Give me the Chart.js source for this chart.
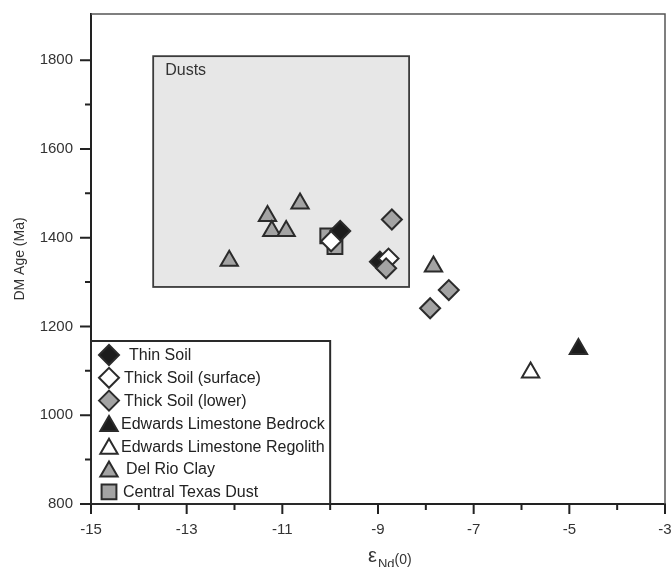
<!DOCTYPE html>
<html>
<head>
<meta charset="utf-8">
<script src="https://cdn.jsdelivr.net/npm/chart.js@4/dist/chart.umd.min.js"></script>
<style>
  html, body { margin: 0; padding: 0; background: #fff; }
</style>
</head>
<body>
<canvas id="chart" width="671" height="567"></canvas>
<script>
// values (eNd(0) vs DM age)
const seriesNames = ["Thin Soil", "Thick Soil (surface)", "Thick Soil (lower)",
  "Edwards Limestone Bedrock", "Edwards Limestone Regolith", "Del Rio Clay", "Central Texas Dust"];

const thinSoilX = [-9.79, -8.96];
const thinSoilY = [1415, 1346];
const thickSurfX = [-9.98, -8.78];
const thickSurfY = [1392, 1353];
const thickLowerX = [-8.71, -8.83, -7.52, -7.91];
const thickLowerY = [1441, 1331, 1282, 1241];
const bedrockX = [-4.81];
const bedrockY = [1149];
const regolithX = [-5.81];
const regolithY = [1096];
const delRioX = [-10.63, -11.31, -11.22, -10.92, -12.11, -7.84];
const delRioY = [1477, 1449, 1415, 1415, 1348, 1335];
const dustX = [-10.05, -9.9];
const dustY = [1404, 1380];

// "Dusts" field
const dustBoxX = [-13.7, -8.35];
const dustBoxY = [1289, 1809];

// axes
const xRange = [-15, -3];
const yRange = [800, 1904];
const xMajorTicks = [-15, -13, -11, -9, -7, -5, -3];
const xMinorTicks = [-14, -12, -10, -8, -6, -4];
const yMajorTicks = [800, 1000, 1200, 1400, 1600, 1800];
const yMinorTicks = [900, 1100, 1300, 1500, 1700];

const FONT = '"Liberation Sans", Arial, Helvetica, sans-serif';
const GRAY = "#a3a3a3";
const DARK = "#1c1c1c";
const EDGE = "#2b2b2b";

function pts(xs, ys) {
  return xs.map((x, i) => ({ x, y: ys[i] }));
}

const styles = [
  { style: "rectRot", fill: DARK, r: 10 },
  { style: "rectRot", fill: "#ffffff", r: 10 },
  { style: "rectRot", fill: GRAY, r: 10 },
  { style: "triangle", fill: DARK, r: 10 },
  { style: "triangle", fill: "#ffffff", r: 10 },
  { style: "triangle", fill: GRAY, r: 10 },
  { style: "rect", fill: GRAY, r: 10.5 },
];
const drawOrder = [2, 1, 0, 3, 4, 5, 6];
const series = [
  pts(thinSoilX, thinSoilY), pts(thickSurfX, thickSurfY), pts(thickLowerX, thickLowerY),
  pts(bedrockX, bedrockY), pts(regolithX, regolithY), pts(delRioX, delRioY), pts(dustX, dustY),
];

const datasets = series.map((data, i) => ({
  label: seriesNames[i],
  data,
  order: drawOrder[i],
  pointStyle: styles[i].style,
  pointRadius: styles[i].r,
  pointHoverRadius: styles[i].r,
  backgroundColor: styles[i].fill,
  borderColor: EDGE,
  pointBorderWidth: 2,
}));

// legend markers, same shapes as chart.js point styles
function shape(ctx, style, r, x, y) {
  ctx.beginPath();
  if (style === "rectRot") {
    ctx.moveTo(x - r, y); ctx.lineTo(x, y - r); ctx.lineTo(x + r, y); ctx.lineTo(x, y + r);
  } else if (style === "triangle") {
    const w = r * Math.sin(Math.PI / 3);
    ctx.moveTo(x, y - r); ctx.lineTo(x + w, y + r / 2); ctx.lineTo(x - w, y + r / 2);
  } else {
    const s = r * Math.SQRT1_2;
    ctx.rect(x - s, y - s, 2 * s, 2 * s);
  }
  ctx.closePath();
  ctx.fill();
  ctx.stroke();
}

const extras = {
  id: "extras",
  beforeDatasetsDraw(chart) {
    const { ctx } = chart;
    const xs = chart.scales.x, ys = chart.scales.y;
    const l = xs.getPixelForValue(dustBoxX[0]), r = xs.getPixelForValue(dustBoxX[1]);
    const t = ys.getPixelForValue(dustBoxY[1]), b = ys.getPixelForValue(dustBoxY[0]);
    ctx.save();
    ctx.fillStyle = "#e7e7e7";
    ctx.fillRect(l, t, r - l, b - t);
    ctx.strokeStyle = "#3c3c3c";
    ctx.lineWidth = 1.8;
    ctx.strokeRect(l, t, r - l, b - t);
    ctx.fillStyle = "#333";
    ctx.font = "16px " + FONT;
    ctx.fillText("Dusts", l + 12, t + 19);
    ctx.restore();
  },
  afterDatasetsDraw(chart) {
    const { ctx, chartArea: a } = chart;
    const xs = chart.scales.x, ys = chart.scales.y;
    ctx.save();
    // frame top / right
    ctx.strokeStyle = "#555";
    ctx.lineWidth = 1.5;
    ctx.beginPath();
    ctx.moveTo(a.left, a.top); ctx.lineTo(a.right, a.top); ctx.lineTo(a.right, a.bottom);
    ctx.stroke();

    // legend box in lower left
    const lx = a.left, lr = xs.getPixelForValue(-10), lt = 341, lb = a.bottom;
    ctx.fillStyle = "#fff";
    ctx.fillRect(lx, lt, lr - lx, lb - lt);
    ctx.strokeStyle = "#2a2a2a";
    ctx.lineWidth = 2;
    ctx.strokeRect(lx, lt, lr - lx, lb - lt);
    const textX = [129, 124, 124, 121, 121, 126, 123];
    ctx.font = "16px " + FONT;
    ctx.textBaseline = "middle";
    seriesNames.forEach((name, i) => {
      const y = 355 + i * 22.8;
      ctx.fillStyle = styles[i].fill;
      ctx.strokeStyle = EDGE;
      ctx.lineWidth = 2;
      const yy = styles[i].style === "triangle" ? y + 2.5 : y;
      shape(ctx, styles[i].style, styles[i].r, 109, yy);
      ctx.fillStyle = "#222";
      ctx.fillText(name, textX[i], y + 1);
    });

    // tick marks
    ctx.strokeStyle = "#222";
    ctx.lineWidth = 2;
    ctx.beginPath();
    xMajorTicks.forEach(v => { const p = xs.getPixelForValue(v); ctx.moveTo(p, a.bottom); ctx.lineTo(p, a.bottom + 10); });
    xMinorTicks.forEach(v => { const p = xs.getPixelForValue(v); ctx.moveTo(p, a.bottom); ctx.lineTo(p, a.bottom + 6); });
    yMajorTicks.forEach(v => { const p = ys.getPixelForValue(v); ctx.moveTo(a.left, p); ctx.lineTo(a.left - 11, p); });
    yMinorTicks.forEach(v => { const p = ys.getPixelForValue(v); ctx.moveTo(a.left, p); ctx.lineTo(a.left - 6, p); });
    ctx.stroke();

    // x axis title: eNd(0)
    ctx.fillStyle = "#333";
    ctx.textBaseline = "alphabetic";
    const cx = (a.left + a.right) / 2 - 10;
    ctx.font = "20px " + FONT;
    ctx.fillText("\u03b5", cx, 562);
    const ew = ctx.measureText("\u03b5").width;
    ctx.font = "13px " + FONT;
    ctx.fillText("Nd", cx + ew + 1, 568);
    const nw = ctx.measureText("Nd").width;
    ctx.font = "14px " + FONT;
    ctx.fillText("(0)", cx + ew + nw + 1, 564);
    ctx.restore();
  },
};

new Chart(document.getElementById("chart"), {
  type: "scatter",
  data: { datasets },
  plugins: [extras],
  options: {
    responsive: false,
    animation: false,
    layout: { autoPadding: false, padding: { top: 14, right: 6, left: 0, bottom: 0 } },
    plugins: { legend: { display: false }, tooltip: { enabled: false } },
    scales: {
      x: {
        type: "linear",
        min: xRange[0],
        max: xRange[1],
        grid: { display: false, drawTicks: false },
        border: { display: true, color: "#222", width: 2 },
        ticks: {
          maxRotation: 0,
          autoSkip: false,
          padding: 17,
          color: "#333",
          font: { family: FONT, size: 15 },
          callback: v => String(v),
        },
        afterBuildTicks(s) { s.ticks = xMajorTicks.map(v => ({ value: v })); },
        afterFit(s) { s.height = 63; s.paddingLeft = 0; s.paddingRight = 0; },
      },
      y: {
        type: "linear",
        min: yRange[0],
        max: yRange[1],
        grid: { display: false, drawTicks: false },
        border: { display: true, color: "#222", width: 2 },
        ticks: {
          autoSkip: false,
          padding: 18,
          color: "#333",
          font: { family: FONT, size: 15 },
          callback: v => String(v),
        },
        afterBuildTicks(s) { s.ticks = yMajorTicks.map(v => ({ value: v })); },
        title: {
          display: true,
          text: "DM Age (Ma)",
          color: "#333",
          font: { family: FONT, size: 14 },
          padding: { top: 12, bottom: 0 },
        },
        afterFit(s) { s.width = 91; s.paddingTop = 0; s.paddingBottom = 0; },
      },
    },
  },
});
</script>
</body>
</html>
